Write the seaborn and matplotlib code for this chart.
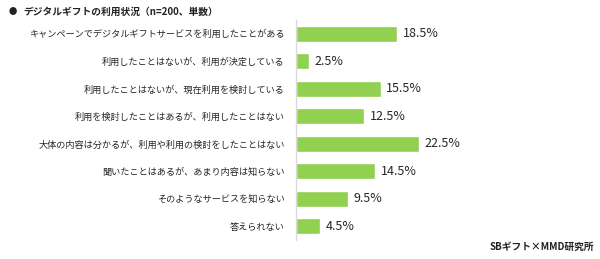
import matplotlib
matplotlib.use("Agg")
import matplotlib.pyplot as plt
import seaborn as sns
import pandas as pd

categories = [
    "キャンペーンでデジタルギフトサービスを利用したことがある",
    "利用したことはないが、利用が決定している",
    "利用したことはないが、現在利用を検討している",
    "利用を検討したことはあるが、利用したことはない",
    "大体の内容は分かるが、利用や利用の検討をしたことはない",
    "聞いたことはあるが、あまり内容は知らない",
    "そのようなサービスを知らない",
    "答えられない",
]
values = [18.5, 2.5, 15.5, 12.5, 22.5, 14.5, 9.5, 4.5]
title = "デジタルギフトの利用状況（n=200、単数）"
source = "SBギフト×MMD研究所"

sns.set_theme(style="white")
plt.rcParams['font.family'] = ['Noto Sans CJK JP', 'DejaVu Sans']

df = pd.DataFrame({"cat": categories, "val": values})

fig = plt.figure(figsize=(6, 2.59), dpi=100)
ax = fig.add_axes([0.493, 0.073, 0.456, 0.85])
sns.barplot(data=df, y="cat", x="val", color="#92D050", saturation=1,
            width=0.57, ax=ax, orient="h")
ax.set_xlim(0, 50)
ax.set_xlabel("")
ax.set_ylabel("")
ax.set_xticks([])
for s in ["top", "right", "bottom"]:
    ax.spines[s].set_visible(False)
ax.spines["left"].set_color("#d9d9d9")
ax.spines["left"].set_linewidth(1)
ax.tick_params(axis="y", length=0, pad=8, labelsize=6.6, labelcolor="#262626")

for i, v in enumerate(values):
    ax.text(v + 1.0, i, f"{v}%", va="center", ha="left", fontsize=9, color="#262626")

fig.text(0.015, 0.955, "●", fontsize=6, va="center", ha="left", color="#222222")
fig.text(0.038, 0.955, title, fontsize=7, fontweight="bold", va="center", ha="left", color="#222222")
fig.text(0.99, 0.045, source, fontsize=7, fontweight="bold", va="center", ha="right", color="#222222")

fig.savefig("out.png", dpi=100)
